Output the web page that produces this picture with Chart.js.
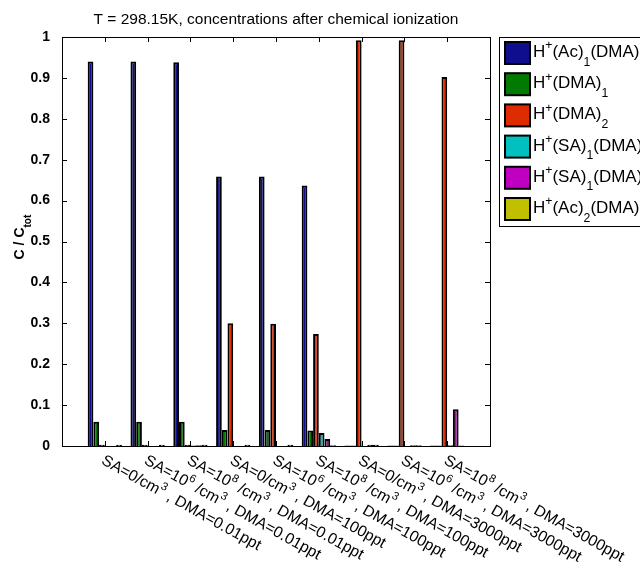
<!DOCTYPE html>
<html>
<head>
<meta charset="utf-8">
<script src="https://cdn.jsdelivr.net/npm/chart.js@4.4.1/dist/chart.umd.min.js"></script>
<style>
  html, body { margin: 0; padding: 0; background: #fff; overflow: hidden; }
  #wrap { width: 640px; height: 565px; }
</style>
</head>
<body>
<div id="wrap"><canvas id="barChart" width="640" height="565"></canvas></div>
<script>
// categories (groups on the x axis), one per simulation case
var groupLabels = [
    'SA=0/cm^3 , DMA=0.01ppt',
    'SA=10^6 /cm^3 , DMA=0.01ppt',
    'SA=10^8 /cm^3 , DMA=0.01ppt',
    'SA=0/cm^3 , DMA=100ppt',
    'SA=10^6 /cm^3 , DMA=100ppt',
    'SA=10^8 /cm^3 , DMA=100ppt',
    'SA=0/cm^3 , DMA=3000ppt',
    'SA=10^6 /cm^3 , DMA=3000ppt',
    'SA=10^8 /cm^3 , DMA=3000ppt'
];
var groupPos = [1, 2, 3, 4, 5, 6, 7, 8, 9];

// series names (legend)
var seriesNames = [
    'H^+(Ac)_1(DMA)_1',
    'H^+(DMA)_1',
    'H^+(DMA)_2',
    'H^+(SA)_1(DMA)_1',
    'H^+(SA)_1(DMA)_2',
    'H^+(Ac)_2(DMA)_1'
];

// series values, C / Ctot
var ac1dma1 = [0.940, 0.940, 0.938, 0.659, 0.659, 0.637, 0.001, 0.001, 0.001];
var dma1    = [0.059, 0.059, 0.059, 0.039, 0.039, 0.038, 0.001, 0.001, 0.001];
var dma2    = [0.003, 0.003, 0.003, 0.300, 0.299, 0.274, 0.992, 0.992, 0.902];
var sa1dma1 = [0.000, 0.000, 0.001, 0.000, 0.000, 0.032, 0.000, 0.000, 0.002];
var sa1dma2 = [0.000, 0.000, 0.002, 0.000, 0.000, 0.017, 0.003, 0.002, 0.090];
var ac2dma1 = [0.003, 0.003, 0.003, 0.003, 0.003, 0.002, 0.003, 0.002, 0.001];

// y tick labels
var yTicks = [0, 0.1, 0.2, 0.3, 0.4, 0.5, 0.6, 0.7, 0.8, 0.9, 1];

var seriesValues = [ac1dma1, dma1, dma2, sa1dma1, sa1dma2, ac2dma1];
var seriesColors = [
    'rgb(14,14,142)',
    'rgb(0,122,0)',
    'rgb(220,44,0)',
    'rgb(0,192,192)',
    'rgb(192,0,192)',
    'rgb(192,192,0)'
];

var FONT = '"Liberation Sans", Arial, Helvetica, sans-serif';

// split "H^+(Ac)_1" style strings into normal / sup / sub pieces
function richParts(str) {
    var parts = [];
    var buf = '';
    for (var i = 0; i < str.length; i++) {
        var c = str[i];
        if ((c === '^' || c === '_') && i + 1 < str.length) {
            if (buf) { parts.push({ t: buf, m: '' }); buf = ''; }
            var txt;
            if (str[i + 1] === '{') {
                var end = str.indexOf('}', i + 2);
                txt = str.substring(i + 2, end);
                i = end;
            } else {
                txt = str[i + 1];
                i++;
            }
            parts.push({ t: txt, m: c === '^' ? 'sup' : 'sub' });
        } else {
            buf += c;
        }
    }
    if (buf) parts.push({ t: buf, m: '' });
    return parts;
}

function drawRich(ctx, str, x, y, size, weight, measureOnly) {
    var parts = richParts(str);
    var cx = x;
    ctx.textBaseline = 'alphabetic';
    ctx.textAlign = 'left';
    for (var i = 0; i < parts.length; i++) {
        var p = parts[i];
        var s = p.m ? size * 0.72 : size;
        var dy = p.m === 'sup' ? -size * 0.45 : (p.m === 'sub' ? size * 0.5 : 0);
        ctx.font = (weight || 'normal') + ' ' + s + 'px ' + FONT;
        if (!measureOnly) ctx.fillText(p.t, cx, y + dy);
        cx += ctx.measureText(p.t).width;
    }
    return cx - x;
}

// axis box, inward ticks, title, labels and legend
var matlabLook = {
    id: 'matlabLook',
    afterDraw: function(chart) {
        var ctx = chart.ctx;
        var a = chart.chartArea;
        var xs = chart.scales.x;
        var ys = chart.scales.y;
        ctx.save();
        ctx.fillStyle = '#000';
        ctx.strokeStyle = '#000';
        ctx.lineWidth = 1;

        // box
        ctx.strokeRect(Math.round(a.left) + 0.5, Math.round(a.top) + 0.5,
            Math.round(a.right - a.left), Math.round(a.bottom - a.top));

        // ticks
        ctx.beginPath();
        for (var i = 0; i < yTicks.length; i++) {
            var py = Math.round(ys.getPixelForValue(yTicks[i])) + 0.5;
            ctx.moveTo(a.left, py); ctx.lineTo(a.left + 5, py);
            ctx.moveTo(a.right, py); ctx.lineTo(a.right - 5, py);
        }
        for (var j = 0; j < groupPos.length; j++) {
            var px = Math.round(xs.getPixelForValue(groupPos[j])) + 0.5;
            ctx.moveTo(px, a.top); ctx.lineTo(px, a.top + 5);
            ctx.moveTo(px, a.bottom); ctx.lineTo(px, a.bottom - 5);
        }
        ctx.stroke();

        // title
        ctx.font = '15.5px ' + FONT;
        ctx.textAlign = 'center';
        ctx.textBaseline = 'alphabetic';
        ctx.fillText('T = 298.15K, concentrations after chemical ionization', (a.left + a.right) / 2, 24);

        // y label
        ctx.save();
        ctx.translate(24, 237);
        ctx.rotate(-Math.PI / 2);
        var w = drawRich(ctx, 'C / C_{tot}', 0, 0, 14, 'bold', true);
        drawRich(ctx, 'C / C_{tot}', -w / 2, 0, 14, 'bold');
        ctx.restore();

        // rotated x labels
        for (var k = 0; k < groupLabels.length; k++) {
            var tx = xs.getPixelForValue(groupPos[k]);
            ctx.save();
            ctx.translate(tx + 2, 452);
            ctx.rotate(29 * Math.PI / 180);
            drawRich(ctx, groupLabels[k], 0, 13, 15.7, 'normal');
            ctx.restore();
        }

        // legend
        ctx.lineWidth = 1;
        ctx.strokeRect(499.5, 37.5, 200, 189);
        for (var n = 0; n < seriesNames.length; n++) {
            var top = 41 + n * 31.2;
            ctx.fillStyle = seriesColors[n];
            ctx.fillRect(505, top + 1, 25, 22);
            ctx.lineWidth = 2;
            ctx.strokeRect(505, top + 1, 25, 22);
            ctx.fillStyle = '#000';
            drawRich(ctx, seriesNames[n], 533, top + 16, 17, 'normal');
        }
        ctx.restore();
    }
};

var datasets = [];
for (var s = 0; s < seriesValues.length; s++) {
    var pts = [];
    for (var g = 0; g < groupPos.length; g++) {
        pts.push({ x: groupPos[g], y: seriesValues[s][g] });
    }
    datasets.push({
        label: seriesNames[s],
        data: pts,
        backgroundColor: seriesColors[s],
        borderColor: '#000',
        borderWidth: 2,
        categoryPercentage: 0.8,
        barPercentage: 1.0
    });
}

var barCanvas = document.getElementById('barChart').getContext('2d');
var barChart = new Chart(barCanvas, {
    type: 'bar',
    data: { datasets: datasets },
    options: {
        responsive: false,
        animation: false,
        devicePixelRatio: 1,
        layout: { padding: { left: 0, right: 150, top: 37, bottom: 119 } },
        plugins: {
            legend: { display: false },
            title: { display: false },
            tooltip: { enabled: false }
        },
        scales: {
            x: {
                type: 'linear',
                min: 0,
                max: 10,
                offset: false,
                grid: { display: false },
                border: { display: false },
                ticks: { display: false },
                afterFit: function(scale) { scale.height = 0; }
            },
            y: {
                min: 0,
                max: 1,
                grid: { display: false },
                border: { display: false },
                afterFit: function(scale) { scale.width = 62; },
                afterBuildTicks: function(scale) {
                    scale.ticks = yTicks.map(function(v) { return { value: v }; });
                },
                ticks: {
                    padding: 4,
                    color: '#000',
                    font: { family: FONT, size: 14, weight: 'bold' },
                    callback: function(v) { return String(v); }
                }
            }
        }
    },
    plugins: [matlabLook]
});
</script>
</body>
</html>
